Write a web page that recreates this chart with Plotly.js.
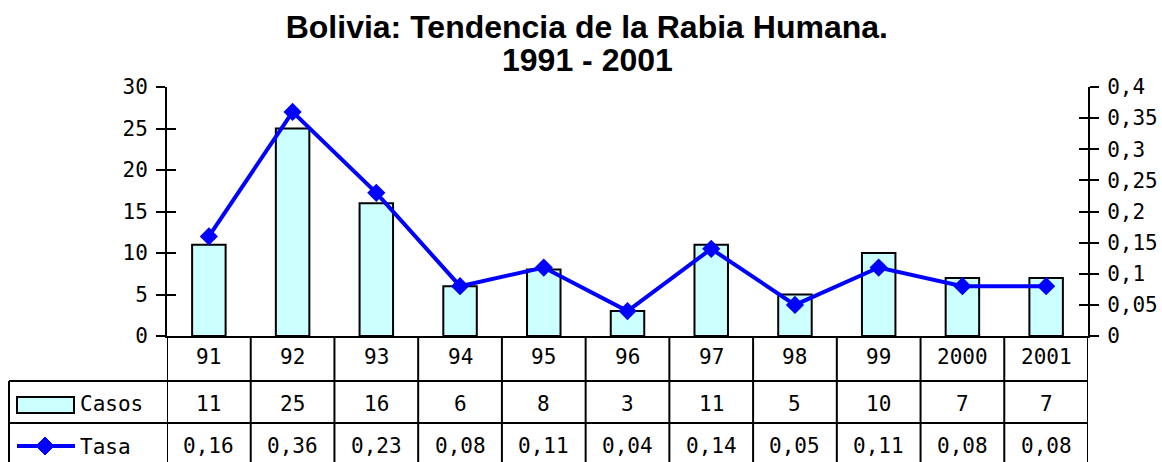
<!DOCTYPE html>
<html>
<head>
<meta charset="utf-8">
<script src="https://cdn.plot.ly/plotly-3.0.1.min.js"></script>
<style>html,body{margin:0;padding:0;background:#fff;}#chart{width:1162px;height:462px;}</style>
</head>
<body>
<div id="chart"></div>
<script>
const categories = ['91','92','93','94','95','96','97','98','99','2000','2001'];
const casos = [11, 25, 16, 6, 8, 3, 11, 5, 10, 7, 7];
const tasa = [0.16, 0.36, 0.23, 0.08, 0.11, 0.04, 0.14, 0.05, 0.11, 0.08, 0.08];
const casosLabels = ['11','25','16','6','8','3','11','5','10','7','7'];
const tasaLabels = ['0,16','0,36','0,23','0,08','0,11','0,04','0,14','0,05','0,11','0,08','0,08'];
const seriesNames = ['Casos', 'Tasa'];
const titleLines = ['Bolivia: Tendencia de la Rabia Humana.', '1991 - 2001'];

const W = 1162, H = 462;
const L = 167, R = 1088, T = 87, B = 336;
const pw = R - L, ph = B - T;
const px = v => (v - L) / pw;   // pixel x -> paper
const py = v => (B - v) / ph;   // pixel y -> paper

const tickFont = {family: 'DejaVu Sans Mono, Liberation Mono, monospace', size: 21, color: '#000'};
const titleFont = {family: 'Liberation Sans, Arial, sans-serif', size: 32, color: '#000'};
const barColor = '#CCFFFF';
const lineColor = '#0000FF';

const traces = [
  {type: 'bar', x: categories, y: casos, name: seriesNames[0], width: 0.4,
   marker: {color: barColor, line: {color: '#000', width: 2}}, yaxis: 'y', hoverinfo: 'x+y'},
  {type: 'scatter', mode: 'lines+markers', x: categories, y: tasa, name: seriesNames[1], yaxis: 'y2',
   line: {color: lineColor, width: 4}, marker: {symbol: 'diamond', size: 14, color: lineColor}, cliponaxis: false}
];

const shapes = [];
const annotations = [];
const rowY1 = 381, rowY2 = 423, rowBottom = 470;
const lineStyle = {color: '#000', width: 2};
// vertical table lines at category boundaries
for (let k = 0; k <= categories.length; k++) {
  shapes.push({type: 'line', xref: 'x', yref: 'paper', x0: k - 0.5, x1: k - 0.5,
    y0: py(B), y1: py(rowBottom), line: lineStyle, layer: 'above'});
}
// horizontal table lines
[rowY1, rowY2].forEach(yy => shapes.push({type: 'line', xref: 'paper', yref: 'paper',
  x0: px(9), x1: 1, y0: py(yy), y1: py(yy), line: lineStyle}));
// left border of legend column
shapes.push({type: 'line', xref: 'paper', yref: 'paper', x0: px(9), x1: px(9),
  y0: py(rowY1), y1: py(rowBottom), line: lineStyle});
// legend swatch: Casos
shapes.push({type: 'rect', xref: 'paper', yref: 'paper', x0: px(17), x1: px(74), y0: py(413), y1: py(397),
  fillcolor: barColor, line: {color: '#000', width: 2}});
// legend swatch: Tasa
shapes.push({type: 'line', xref: 'paper', yref: 'paper', x0: px(17), x1: px(75), y0: py(446), y1: py(446),
  line: {color: lineColor, width: 4}});
shapes.push({type: 'path', xref: 'paper', yref: 'paper',
  path: `M ${px(45)} ${py(437)} L ${px(54)} ${py(446)} L ${px(45)} ${py(455)} L ${px(36)} ${py(446)} Z`,
  fillcolor: lineColor, line: {color: lineColor, width: 1}});

annotations.push({xref: 'paper', yref: 'paper', x: px(78), y: py(404), xanchor: 'left', yanchor: 'middle',
  text: seriesNames[0], showarrow: false, font: tickFont});
annotations.push({xref: 'paper', yref: 'paper', x: px(78), y: py(447), xanchor: 'left', yanchor: 'middle',
  text: seriesNames[1], showarrow: false, font: tickFont});

// second title line
annotations.push({xref: 'paper', yref: 'paper', x: px(587), y: py(60), xanchor: 'center', yanchor: 'middle',
  text: '<b>' + titleLines[1] + '</b>', showarrow: false, font: titleFont});

categories.forEach((c, i) => {
  annotations.push({xref: 'x', yref: 'paper', x: i, y: py(357), text: c, showarrow: false,
    xanchor: 'center', yanchor: 'middle', font: tickFont});
  annotations.push({xref: 'x', yref: 'paper', x: i, y: py(404), text: casosLabels[i], showarrow: false,
    xanchor: 'center', yanchor: 'middle', font: tickFont});
  annotations.push({xref: 'x', yref: 'paper', x: i, y: py(446), text: tasaLabels[i], showarrow: false,
    xanchor: 'center', yanchor: 'middle', font: tickFont});
});

const axisCommon = {showgrid: false, zeroline: false, showline: true, linecolor: '#000', linewidth: 2,
  ticks: 'outside', ticklen: 9, tickwidth: 2, tickcolor: '#000', tickfont: tickFont, fixedrange: true,
  ticklabelstandoff: 4};

const layout = {
  width: W, height: H,
  margin: {l: L, r: W - R, t: T, b: H - B, pad: 0},
  paper_bgcolor: '#fff', plot_bgcolor: '#fff',
  separators: ',.',
  showlegend: false,
  title: {text: '<b>' + titleLines[0] + '</b>', font: titleFont,
    x: 0.505, xanchor: 'center', y: 1 - 27 / H, yanchor: 'middle', yref: 'container'},
  xaxis: {type: 'category', showticklabels: false, ticks: '', showgrid: false, zeroline: false,
    showline: true, linecolor: '#000', linewidth: 2, range: [-0.5, categories.length - 0.5], fixedrange: true},
  yaxis: Object.assign({}, axisCommon, {range: [0, 30], dtick: 5, tick0: 0, side: 'left'}),
  yaxis2: Object.assign({}, axisCommon, {range: [0, 0.4], dtick: 0.05, tick0: 0, side: 'right', overlaying: 'y'}),
  yaxis3: {range: [0, 30], dtick: 5, tick0: 0, overlaying: 'y', side: 'left', showgrid: false, zeroline: false,
    showline: false, ticks: 'inside', ticklen: 9, tickwidth: 2, tickcolor: '#000', showticklabels: false, fixedrange: true},
  yaxis4: {range: [0, 0.4], dtick: 0.05, tick0: 0, overlaying: 'y', side: 'right', showgrid: false, zeroline: false,
    showline: false, ticks: 'inside', ticklen: 9, tickwidth: 2, tickcolor: '#000', showticklabels: false, fixedrange: true},
  shapes: shapes,
  annotations: annotations
};

// invisible traces to realize the inner tick axes
traces.push({type: 'scatter', x: [categories[0]], y: [null], yaxis: 'y3', showlegend: false, hoverinfo: 'skip'});
traces.push({type: 'scatter', x: [categories[0]], y: [null], yaxis: 'y4', showlegend: false, hoverinfo: 'skip'});

Plotly.newPlot('chart', traces, layout, {displayModeBar: false, staticPlot: true});
</script>
</body>
</html>
